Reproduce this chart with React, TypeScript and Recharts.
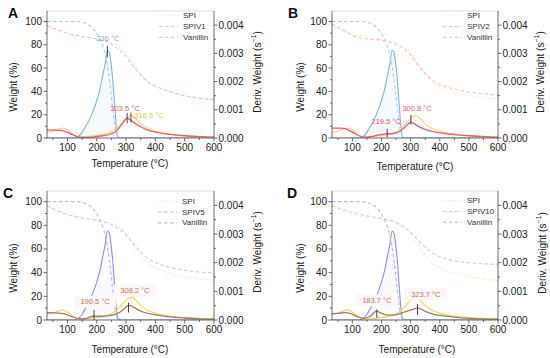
import React from 'react';
import { ComposedChart, Line, Area, XAxis, YAxis, ReferenceLine, ReferenceDot } from 'recharts';

// axis ticks (majors get labels, the others are minor ticks)
const tempTicks = [50, 100, 150, 200, 250, 300, 350, 400, 450, 500, 550, 600];
const weightTicks = [0, 10, 20, 30, 40, 50, 60, 70, 80, 90, 100];
const derivTicks = [0, 0.0005, 0.001, 0.0015, 0.002, 0.0025, 0.003, 0.0035, 0.004];

// Vanillin weight (%) and derivative (s^-1)
const vanWT = [30, 130, 150, 170, 190, 200, 210, 220, 230, 236, 242, 248, 254, 260, 266, 272, 280, 600];
const vanW = [100, 100, 99.3, 97.5, 93, 89.5, 85, 79, 70, 62, 52, 40, 26, 13, 5, 1.5, 0.3, 0];
const vanDT = [30, 120, 130, 140, 150, 160, 170, 180, 190, 200, 210, 220, 228, 236, 242, 248, 254, 260, 265, 270, 275, 600];
const vanD = [0, 0, 0.00002, 0.00008, 0.0002, 0.00038, 0.00055, 0.00078, 0.00103, 0.00133, 0.0017, 0.0022, 0.0026, 0.0031, 0.00305, 0.0027, 0.0021, 0.0013, 0.0006, 0.00012, 0, 0];

// weight curves of SPI and the SPIV films share one temperature list
const weightT = [30, 60, 100, 150, 200, 250, 280, 300, 320, 340, 360, 380, 400, 450, 500, 550, 600];
const spiW = [96, 93, 89, 87, 85, 82, 78, 73, 66, 58, 52, 47, 44, 39.5, 36.5, 34.5, 33.5];
const spiv1W = [96.5, 93.5, 90, 87, 85, 80.5, 75, 70, 63, 57, 51.5, 47, 44.5, 40, 36, 34, 33];
const spiv2W = [98, 94, 88, 85, 84, 80, 76, 71, 64, 58, 53, 49, 46, 42, 39.5, 38, 37];
const spiv5W = [97, 93, 89, 86, 84, 80.5, 76, 72, 66, 60, 55, 51, 48.5, 44.5, 42, 40.5, 40];
const spiv10W = [97, 94, 91, 88, 86, 82.5, 78, 74, 69, 64, 59.5, 56, 53.5, 50, 48.5, 47.5, 47];

// derivative curves
const spiDT = [30, 50, 70, 85, 100, 120, 140, 160, 190, 220, 250, 270, 290, 305, 316.5, 330, 350, 370, 400, 450, 500, 550, 600];
const spiD = [0.0002, 0.00024, 0.00032, 0.00035, 0.00028, 0.00012, 0.00003, 0.00004, 0.00008, 0.00012, 0.00022, 0.00036, 0.00058, 0.00074, 0.0008, 0.00072, 0.0005, 0.00036, 0.00024, 0.00014, 0.00009, 0.00006, 0.00004];
const spiv1DT = [30, 60, 80, 100, 120, 140, 160, 190, 220, 250, 270, 285, 295, 303.5, 315, 330, 350, 370, 400, 450, 500, 550, 600];
const spiv1D = [0.00029, 0.00028, 0.00026, 0.0002, 0.0001, 0.00003, 0.00002, 0.00004, 0.00008, 0.00015, 0.00028, 0.00048, 0.00063, 0.0007, 0.00064, 0.00052, 0.0004, 0.0003, 0.00021, 0.00013, 0.00008, 0.00005, 0.00003];
const spiv2DT = [30, 60, 75, 90, 110, 130, 150, 170, 190, 210, 219.5, 235, 250, 265, 280, 292, 300.8, 310, 325, 345, 370, 400, 450, 500, 550, 600];
const spiv2D = [0.00035, 0.00035, 0.00033, 0.00026, 0.00015, 0.00005, 0.00003, 0.00006, 0.00011, 0.00014, 0.00015, 0.00015, 0.00018, 0.00025, 0.00038, 0.0005, 0.00056, 0.00052, 0.00042, 0.00032, 0.00024, 0.00018, 0.00012, 0.00008, 0.00005, 0.00003];
const spiv5DT = [30, 60, 80, 100, 120, 140, 160, 175, 190.5, 205, 220, 240, 260, 280, 295, 308.2, 320, 340, 360, 400, 450, 500, 550, 600];
const spiv5D = [0.00026, 0.00025, 0.00023, 0.00018, 0.0001, 0.00005, 0.00005, 0.0001, 0.00014, 0.00013, 0.00013, 0.00015, 0.00019, 0.00028, 0.0004, 0.00052, 0.00048, 0.00036, 0.00027, 0.00018, 0.00011, 0.00007, 0.00004, 0.00003];
const spiv10DT = [30, 50, 75, 95, 115, 140, 160, 175, 183.7, 195, 215, 240, 260, 280, 300, 315, 323.7, 335, 355, 380, 400, 450, 500, 550, 600];
const spiv10D = [0.00022, 0.00023, 0.00026, 0.00022, 0.00012, 0.00006, 0.00012, 0.00026, 0.00031, 0.00026, 0.00018, 0.00017, 0.00021, 0.00028, 0.00035, 0.0004, 0.00042, 0.00038, 0.00028, 0.0002, 0.00016, 0.0001, 0.00006, 0.00004, 0.00003];

// peak temperatures marked in each panel
const peaksA = [236, 303.5, 316.5];
const peaksB = [219.5, 300.8];
const peaksC = [190.5, 308.2];
const peaksD = [183.7, 323.7];

const FONT = '"Liberation Sans", Arial, sans-serif';

const warm = { spi: '#f9d27a', spiW: '#fbe1aa', spiv: '#f25770', spivW: '#f8bac0', van: '#85b2dd', vanW: '#a9cbe9', vanFill: '#e6f0fa' };
const cool = { spi: '#f3d565', spiW: '#f5e2a4', spiv: '#9e7f66', spivW: '#cdc9e4', van: '#8d91e1', vanW: '#b4b8ec', vanFill: '#ebebfb' };

const pts = (T: number[], V: number[]) => T.map((t, i) => ({ t, v: V[i] }));

const panels = [
  {
    id: 'A', x: 0, y: 0, h: 178, L: 47, R: 214, T: 11, B: 138, pal: warm,
    name: 'SPIV1', spivW: spiv1W, spivDT: spiv1DT, spivD: spiv1D,
    peaks: peaksA.map((t, i) => [
      { t, y0: 0.00286, y1: 0.00327, lx: 238, ly: 0.00354, color: '#7fb1dd' },
      { t, y0: 0.00052, y1: 0.00089, lx: 296, ly: 0.00104, color: '#f2536b' },
      { t, y0: 0.00055, y1: 0.0009, lx: 378, ly: 0.00078, color: '#f4c04a' },
    ][i]),
    letter: [8, 18], wLabel: [13, 87], dLabel: [257, 72], tLabel: [130, 163], legend: [159, 15.7], bg: null,
  },
  {
    id: 'B', x: 275, y: 0, h: 178, L: 57, R: 223, T: 11, B: 138, pal: warm,
    name: 'SPIV2', spivW: spiv2W, spivDT: spiv2DT, spivD: spiv2D,
    peaks: peaksB.map((t, i) => [
      { t, y0: 0.00002, y1: 0.00032, lx: 216, ly: 0.00058, color: '#f2536b' },
      { t, y0: 0.00047, y1: 0.00082, lx: 322, ly: 0.00105, color: '#f2536b' },
    ][i]),
    letter: [13, 18], wLabel: [25, 87], dLabel: [265, 72], tLabel: [140, 166], legend: [168, 15.7], bg: null,
  },
  {
    id: 'C', x: 0, y: 178, h: 180, L: 47, R: 214, T: 13, B: 142, pal: cool,
    name: 'SPIV5', spivW: spiv5W, spivDT: spiv5DT, spivD: spiv5D,
    peaks: peaksC.map((t, i) => [
      { t, y0: 0, y1: 0.00035, lx: 194, ly: 0.00064, color: '#b87c5e' },
      { t, y0: 0.00026, y1: 0.00061, lx: 330, ly: 0.00102, color: '#b87c5e' },
    ][i]),
    letter: [3, 20], wLabel: [13, 90], dLabel: [257, 74], tLabel: [130, 171], legend: [158, 23.3], bg: '#fdf5f7',
  },
  {
    id: 'D', x: 275, y: 178, h: 180, L: 57, R: 223, T: 13, B: 142, pal: cool,
    name: 'SPIV10', spivW: spiv10W, spivDT: spiv10DT, spivD: spiv10D,
    peaks: peaksD.map((t, i) => [
      { t, y0: 0.00008, y1: 0.00037, lx: 184, ly: 0.00069, color: '#b87c5e' },
      { t, y0: 0.00018, y1: 0.00055, lx: 352, ly: 0.0009, color: '#b87c5e' },
    ][i]),
    letter: [12, 20], wLabel: [25, 90], dLabel: [267, 75], tLabel: [142, 171], legend: [168, 22.7], bg: '#fdf5f7',
  },
];

const AXIS = '#444';
const TICK_TEXT = '#222';

const XTick = ({ x, y, payload }: any) => {
  const major = payload.value % 100 === 0;
  return (
    <g>
      <line x1={x} x2={x} y1={y} y2={y + (major ? 3.5 : 2)} stroke={AXIS} strokeWidth={0.8} />
      {major && (
        <text x={x} y={y + 9.5} textAnchor="middle" dominantBaseline="central" fontSize={10} fill={TICK_TEXT} fontFamily={FONT}>
          {payload.value}
        </text>
      )}
    </g>
  );
};

const LeftTick = ({ x, y, payload }: any) => {
  const major = payload.value % 20 === 0;
  return (
    <g>
      <line x1={x} x2={x - (major ? 3.5 : 2)} y1={y} y2={y} stroke={AXIS} strokeWidth={0.8} />
      {major && (
        <text x={x - 5} y={y} textAnchor="end" dominantBaseline="central" fontSize={10} fill={TICK_TEXT} fontFamily={FONT}>
          {payload.value}
        </text>
      )}
    </g>
  );
};

const RightTick = ({ x, y, payload }: any) => {
  const major = Math.round(payload.value * 2000) % 2 === 0;
  return (
    <g>
      <line x1={x} x2={x + (major ? 3.5 : 2)} y1={y} y2={y} stroke={AXIS} strokeWidth={0.8} />
      {major && (
        <text x={x + 4.5} y={y} textAnchor="start" dominantBaseline="central" fontSize={10} fill={TICK_TEXT} fontFamily={FONT}>
          {payload.value.toFixed(3)}
        </text>
      )}
    </g>
  );
};

const peakLabel = (text: string, color: string, bg: string | null) => (props: any) => {
  const vb = props.viewBox;
  const cx = vb.x + vb.width / 2;
  const cy = vb.y + vb.height / 2;
  return (
    <g>
      {bg && <rect x={cx - 21} y={cy - 6} width={42} height={12} fill={bg} />}
      <text x={cx} y={cy} textAnchor="middle" dominantBaseline="central" fontSize={7.5} fill={color} fontFamily={FONT}>
        {text}
      </text>
    </g>
  );
};

const Panel = ({ p }: { p: (typeof panels)[number] }) => {
  const c = p.pal;
  const legendItems = [
    { label: 'SPI', color: c.spiW, dash: '1.2 1.8' },
    { label: p.name, color: c.spivW, dash: '3.5 2.5' },
    { label: 'Vanillin', color: c.vanW, dash: '3.5 2.5' },
  ];
  return (
    <div style={{ position: 'absolute', left: p.x, top: p.y, width: 275, height: p.h }}>
      <ComposedChart width={275} height={p.h} margin={{ top: p.T, right: 0, bottom: 0, left: 0 }}>
        <XAxis
          xAxisId="x" type="number" dataKey="t" domain={[30, 600]} ticks={tempTicks} allowDataOverflow
          height={p.h - p.B} tickSize={0} tickMargin={0} tickLine={false} tick={<XTick />}
          axisLine={{ stroke: AXIS, strokeWidth: 0.8 }} interval={0}
        />
        <YAxis
          yAxisId="left" orientation="left" type="number" domain={[0, 109]} ticks={weightTicks} allowDataOverflow
          width={p.L} tickSize={0} tickMargin={0} tickLine={false} tick={<LeftTick />}
          axisLine={{ stroke: AXIS, strokeWidth: 0.8 }} interval={0}
        />
        <YAxis
          yAxisId="right" orientation="right" type="number" domain={[0, 0.0045]} ticks={derivTicks} allowDataOverflow
          width={275 - p.R} tickSize={0} tickMargin={0} tickLine={false} tick={<RightTick />}
          axisLine={{ stroke: AXIS, strokeWidth: 0.8 }} interval={0}
        />
        <ReferenceLine xAxisId="x" yAxisId="left" y={109} stroke="#d4d4d4" strokeWidth={0.8} />

        <Area
          xAxisId="x" yAxisId="right" data={pts(vanDT, vanD)} dataKey="v" type="monotone"
          stroke={c.van} strokeWidth={1.1} fill={c.vanFill} fillOpacity={0.3} isAnimationActive={false}
        />
        <Line
          xAxisId="x" yAxisId="left" data={pts(weightT, spiW)} dataKey="v" type="monotone"
          stroke={c.spiW} strokeWidth={1.1} strokeDasharray="1.2 1.8" dot={false} isAnimationActive={false}
        />
        <Line
          xAxisId="x" yAxisId="left" data={pts(weightT, p.spivW)} dataKey="v" type="monotone"
          stroke={c.spivW} strokeWidth={1.1} strokeDasharray="3.5 2.5" dot={false} isAnimationActive={false}
        />
        <Line
          xAxisId="x" yAxisId="left" data={pts(vanWT, vanW)} dataKey="v" type="monotone"
          stroke={c.vanW} strokeWidth={1.1} strokeDasharray="3.5 2.5" dot={false} isAnimationActive={false}
        />
        <Line
          xAxisId="x" yAxisId="right" data={pts(spiDT, spiD)} dataKey="v" type="monotone"
          stroke={c.spi} strokeWidth={1.2} dot={false} isAnimationActive={false}
        />
        <Line
          xAxisId="x" yAxisId="right" data={pts(p.spivDT, p.spivD)} dataKey="v" type="monotone"
          stroke={c.spiv} strokeWidth={1.3} dot={false} isAnimationActive={false}
        />

        {p.peaks.map((k) => (
          <ReferenceLine
            key={'tick' + k.t} xAxisId="x" yAxisId="right"
            segment={[{ x: k.t, y: k.y0 }, { x: k.t, y: k.y1 }]}
            stroke="#333" strokeWidth={0.9}
          />
        ))}
        {p.peaks.map((k) => (
          <ReferenceDot
            key={'lab' + k.t} xAxisId="x" yAxisId="right" x={k.lx} y={k.ly} r={0}
            fill="none" stroke="none" label={peakLabel(`${k.t} °C`, k.color, p.bg)}
          />
        ))}
      </ComposedChart>

      <svg width={275} height={p.h} style={{ position: 'absolute', left: 0, top: 0, pointerEvents: 'none' }} fontFamily={FONT}>
        <text x={p.letter[0]} y={p.letter[1]} fontSize={14} fontWeight="bold" fill="#111">{p.id}</text>
        <text
          x={p.wLabel[0]} y={p.wLabel[1]} fontSize={10} fill={TICK_TEXT} textAnchor="middle" dominantBaseline="central"
          transform={`rotate(-90 ${p.wLabel[0]} ${p.wLabel[1]})`}
        >
          Weight (%)
        </text>
        <text
          x={p.dLabel[0]} y={p.dLabel[1]} fontSize={10} fill={TICK_TEXT} textAnchor="middle" dominantBaseline="central"
          transform={`rotate(-90 ${p.dLabel[0]} ${p.dLabel[1]})`}
        >
          Deriv. Weight (s<tspan baselineShift="super" fontSize={7}>−1</tspan>)
        </text>
        <text x={p.tLabel[0]} y={p.tLabel[1]} fontSize={10} fill={TICK_TEXT} textAnchor="middle" dominantBaseline="central">
          Temperature (°C)
        </text>
        {legendItems.map((it, i) => {
          const ly = p.legend[1] + i * 10.8;
          return (
            <g key={it.label}>
              <line x1={p.legend[0]} x2={p.legend[0] + 19} y1={ly} y2={ly} stroke={it.color} strokeWidth={1.1} strokeDasharray={it.dash} />
              <text x={p.legend[0] + 24} y={ly} fontSize={8} fill="#333" dominantBaseline="central">{it.label}</text>
            </g>
          );
        })}
      </svg>
    </div>
  );
}

export default function App() {
  return (
    <div style={{ position: 'absolute', left: 0, top: 0, width: 550, height: 358, background: '#fff', fontFamily: FONT }}>
      {panels.map((p) => (
        <Panel key={p.id} p={p} />
      ))}
    </div>
  );
}
